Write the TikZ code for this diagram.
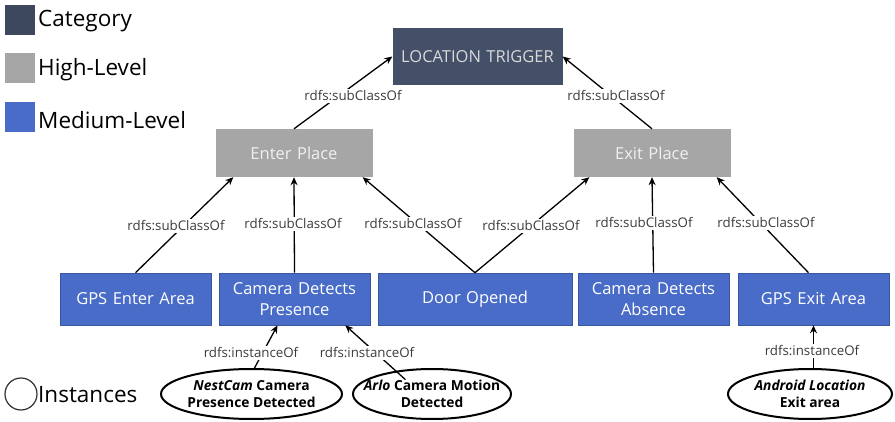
\documentclass[tikz,border=0pt]{standalone}
\usepackage{fontspec}
\setmainfont{Open Sans}
\usetikzlibrary{arrows.meta,calc,shapes.geometric}
\definecolor{catc}{RGB}{68,80,104}
\definecolor{highc}{RGB}{166,166,166}
\definecolor{medc}{RGB}{72,108,200}
\definecolor{lblc}{RGB}{60,60,60}
\tikzset{
  box/.style={draw=none, minimum height=48pt, text width=#1, align=center, inner sep=0pt, font=\fontsize{16.5}{21}\selectfont},
  catbox/.style={box=170pt, fill=catc, text=white!85!black, minimum height=57pt},
  highbox/.style={box=157pt, fill=highc, text=white!94!black},
  medbox/.style={box=151pt, fill=medc, text=white, minimum height=52pt, draw=medc!80!black, line width=0.6pt},
  inst/.style={ellipse, draw=black, line width=2pt, fill=white, align=center, inner xsep=-25pt, inner ysep=-4pt, minimum height=50pt, font=\fontsize{13.8}{17}\selectfont\bfseries},
  lbl/.style={fill=white, text=lblc, inner sep=1.5pt, font=\fontsize{13.3}{15}\selectfont},
  conn/.style={draw=black, line width=1.3pt, -{Stealth[length=8pt,width=7pt]}},
  legsq/.style={minimum size=30pt, inner sep=0pt, draw=none},
  legtxt/.style={anchor=west, inner sep=0pt, font=\fontsize{22.5}{26}\selectfont, text=black},
}
\begin{document}
\begin{tikzpicture}[x=1pt,y=-1pt]
\useasboundingbox (0,0) rectangle (895,422);
\fill[white] (0,0) rectangle (895,422);
% legend
\node[legsq, fill=catc!90!black] (lc) at (20,20) {};
\node[legtxt] (lct) at (38,21) {Category};
\node[legsq, fill=highc] (lh) at (20,68) {};
\node[legtxt] (lht) at (38,70) {High-Level};
\node[legsq, fill=medc] (lm) at (20,117) {};
\node[legtxt] (lmt) at (38,120) {Medium-Level};
\node[circle, draw=black!80, line width=1.2pt, minimum size=32pt, inner sep=0pt] (li) at (21,394) {};
\node[legtxt] (lit) at (38,395) {Instances};
% main nodes
\node[catbox] (lt) at (477.5,56.5) {LOCATION TRIGGER};
\node[highbox] (ep) at (294,153) {Enter Place};
\node[highbox] (xp) at (652,153) {Exit Place};
\node[medbox] (ga) at (135.5,299) {GPS Enter Area};
\node[medbox] (cp) at (294.5,299) {Camera Detects\\Presence};
\node[medbox, text width=194pt] (do) at (475,299) {Door Opened};
\node[medbox] (ca) at (653.5,299) {Camera Detects\\Absence};
\node[medbox] (gx) at (813.5,299) {GPS Exit Area};
\node[inst, minimum width=181pt] (i1) at (251.5,394) {\textit{NestCam} Camera\\Presence Detected};
\node[inst, minimum width=158pt] (i2) at (432,394) {\textit{Arlo} Camera Motion\\Detected};
\node[inst, minimum width=164pt] (i3) at (810,394) {\textit{Android Location}\\Exit area};
% connectors
\draw[conn] (ep.north) -- (lt.west);
\draw[conn] (xp.north) -- (lt.east);
\draw[conn] (ga.north) -- ($(ep.south west)+(18,0)$);
\draw[conn] (cp.north) -- (ep.south);
\draw[conn] (do.north) -- ($(ep.south east)+(-10,0)$);
\draw[conn] (do.north) -- ($(xp.south west)+(16,0)$);
\draw[conn] (ca.north) -- (xp.south);
\draw[conn] ($(gx.north)+(-5,0)$) -- ($(xp.south east)+(-14,0)$);
\draw[conn] ($(i1.north)+(3,0)$) -- ($(cp.south)+(-17,0)$);
\draw[conn] ($(i2.north west)+(30,4)$) -- ($(cp.south east)+(-25,0)$);
\draw[conn] (i3.north -| gx.south) -- (gx.south);
% labels
\node[lbl] (l1) at (353,96) {rdfs:subClassOf};
\node[lbl] (l2) at (616,96) {rdfs:subClassOf};
\node[lbl] (l3) at (176,226) {rdfs:subClassOf};
\node[lbl] (l4) at (293,224) {rdfs:subClassOf};
\node[lbl] (l5) at (413,224) {rdfs:subClassOf};
\node[lbl] (l6) at (531,226) {rdfs:subClassOf};
\node[lbl] (l7) at (644,223) {rdfs:subClassOf};
\node[lbl] (l8) at (766,223) {rdfs:subClassOf};
\node[lbl] (l9) at (251,353) {rdfs:instanceOf};
\node[lbl] (l10) at (367,353) {rdfs:instanceOf};
\node[lbl] (l11) at (812,351) {rdfs:instanceOf};
\end{tikzpicture}
\end{document}
